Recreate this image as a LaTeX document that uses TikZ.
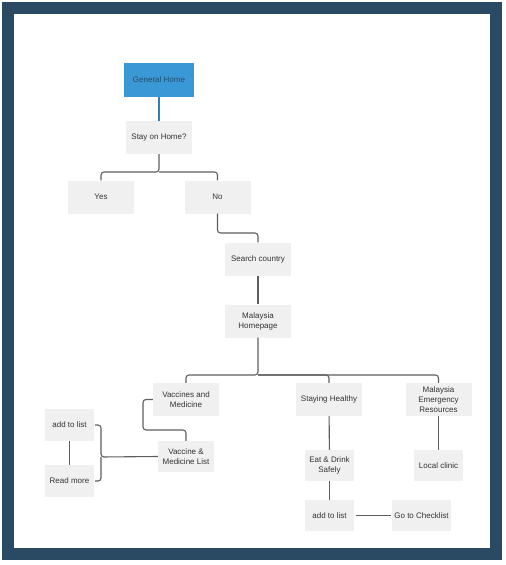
\documentclass[tikz,border=0pt]{standalone}
\usepackage{fontspec}
\setmainfont{Liberation Sans}
\usepackage{xcolor}
\usepackage{tikz}
\usetikzlibrary{arrows.meta,positioning}
\definecolor{framec}{HTML}{2A4A63}
\definecolor{boxc}{HTML}{F0F0F0}
\definecolor{homec}{HTML}{3A98D6}
\definecolor{linec}{HTML}{5E5E5E}
\tikzset{
  pagebox/.style={fill=boxc,minimum width=66pt,minimum height=33pt,inner sep=1pt,align=center,
    font=\fontsize{8}{10}\selectfont,text=black!80},
  smallbox/.style={pagebox,minimum width=49pt,minimum height=31pt},
  conn/.style={draw=linec,line width=1.1pt,rounded corners=3pt}
}
\begin{document}
\begin{tikzpicture}[x=1pt,y=-1pt]
\useasboundingbox (0,0) rectangle (506,565);
\fill[framec](2,2) rectangle (502,560);
\fill[white](14,14) rectangle (490,548);
\node[pagebox,fill=homec,minimum width=70pt,minimum height=34pt,text=framec](home) at (159,80){General Home};
\node[pagebox](stay) at (159,137.5){Stay on Home?};
\node[pagebox](yes) at (101,197){Yes};
\node[pagebox](no) at (217.5,197){No};
\node[pagebox](search) at (258,259){Search country};
\node[pagebox](mhome) at (258,321){Malaysia\\Homepage};
\node[pagebox](vacc) at (186,399.5){Vaccines and\\Medicine};
\node[pagebox](healthy) at (329,399.5){Staying Healthy};
\node[pagebox](emerg) at (438.5,399.5){Malaysia\\Emergency\\Resources};
\node[smallbox,minimum width=56pt](vlist) at (186,456.5){Vaccine \&\\Medicine List};
\node[smallbox,minimum height=32pt](addv) at (69.5,425){add to list};
\node[smallbox,minimum height=32pt](read) at (69.5,481){Read more};
\node[smallbox](eat) at (329.5,465.5){Eat \& Drink\\Safely};
\node[smallbox](clinic) at (438.5,465.5){Local clinic};
\node[smallbox](adds) at (329.5,515.5){add to list};
\node[smallbox,minimum width=59pt](check) at (421.5,515.5){Go to Checklist};
\coordinate(b1) at (159,172);
\coordinate(b2) at (217.5,233);
\coordinate(b3) at (258,375);
\coordinate(v1) at (143,430);
\coordinate(v2) at (101,457);
\draw[conn,draw=homec!85!black](home)--(stay);
\draw[conn](stay)--(b1)-|(yes.north);
\draw[conn](b1)-|(no.north);
\draw[conn](no.south)--(b2)-|(search.north);
\draw[conn](search)--(mhome);
\draw[conn](mhome)--(b3)-|(vacc.north);
\draw[conn](b3)-|(healthy.north);
\draw[conn](b3)-|(emerg.north);
\draw[conn](vacc.west)-|(v1)-|(vlist.north);
\draw[conn](vlist.west)--(v2)|-([xshift=1pt]addv.east);
\draw[conn](v2)|-([xshift=1pt]read.east);
\draw[conn](addv)--(read);
\draw[conn](healthy)--(eat);
\draw[conn](emerg)--(clinic);
\draw[conn](eat)--(adds);
\draw[conn,shorten <=2pt,shorten >=1pt](adds)--(check);
\end{tikzpicture}
\end{document}
